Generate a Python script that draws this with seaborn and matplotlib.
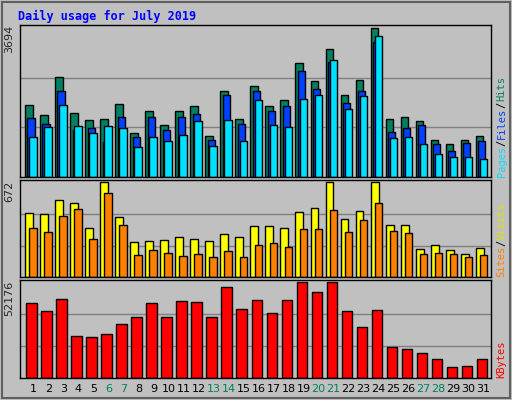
import numpy as np
import pandas as pd
import matplotlib
matplotlib.use("Agg")
import matplotlib.pyplot as plt
import seaborn as sns
from matplotlib.patches import Rectangle

days = list(range(1, 32))
weekends = [6, 7, 13, 14, 20, 21, 27, 28]
hits = [1788,1538,2490,1588,1412,1437,1813,1086,1638,1287,1638,1763,1011,2139,1437,2265,1763,1914,2816,2390,3167,2039,2415,3694,1437,1488,1387,911,811,911,1011]
files = [1462,1312,2139,1162,1212,861,1488,986,1488,1162,1488,1563,911,2039,1312,2139,1638,1763,2616,2190,2841,1839,2139,3343,1111,1212,1287,811,635,836,886]
pages = [986,1237,1788,1262,1086,1262,1212,735,986,886,1036,1387,760,1412,886,1914,1287,1237,1939,2039,2892,1688,2014,3493,961,986,811,560,485,485,435]
visits = [453,446,548,526,351,672,424,248,256,263,285,270,256,307,285,365,365,351,460,489,672,409,467,672,373,373,197,226,190,168,205]
sites = [351,321,431,482,270,599,373,161,190,175,153,168,146,183,146,226,241,212,343,343,475,321,402,526,329,314,168,175,168,146,161]
kbytes = [40707,36692,42998,22932,22359,24079,29812,33251,40707,33251,41851,41278,33251,49877,37838,42425,35545,42425,52176,47011,52176,36692,28092,37265,17199,16052,13759,10319,6306,6880,10319]

sns.set_theme(style="white")
plt.rcParams['font.family'] = ['DejaVu Sans']
BG = "#c0c0c0"
fig = plt.figure(figsize=(5.12, 4.0), dpi=100, facecolor=BG)
fig.patches.append(Rectangle((0.004, 0.004), 0.992, 0.992, transform=fig.transFigure,
                             fill=False, edgecolor="#606060", linewidth=1.5))

L, R = 0.039, 0.959
panels = [(0.5575, 0.9375), (0.3067, 0.549), (0.054, 0.299)]
axes = [fig.add_axes([L, b, R - L, t - b]) for b, t in panels]
d = np.array(days, dtype=float)

def bars(ax, vals, off, w, col):
    sns.barplot(x=d + off, y=vals, native_scale=True, width=w, color=col,
                edgecolor="black", linewidth=1, saturation=1, ax=ax)

bars(axes[0], hits, -0.29, 0.49, "#008060")
bars(axes[0], files, -0.14, 0.5, "#0040ff")
bars(axes[0], pages, -0.02, 0.49, "#00e0ff")
bars(axes[1], visits, -0.27, 0.53, "#ffff00")
bars(axes[1], sites, -0.02, 0.49, "#ff8000")
bars(axes[2], kbytes, -0.12, 0.69, "#ff0000")

maxes = [max(hits), max(visits), max(kbytes)]
for ax, m in zip(axes, maxes):
    ax.set_facecolor(BG)
    ax.set_xlim(0.11, 31.49)
    ax.set_ylim(0, m * 1.02)
    for f in (1/3, 2/3):
        ax.axhline(m * f, color="#808080", linewidth=1, zorder=0)
    ax.set_yticks([])
    ax.set_xticks([])
    ax.set_xlabel(""); ax.set_ylabel("")
    for s in ax.spines.values():
        s.set_color("black"); s.set_linewidth(1)
    ax.text(-0.012, 1.0, str(m), transform=ax.transAxes, rotation=90,
            ha="right", va="top", fontsize=8)

axes[2].set_xticks(days)
axes[2].set_xticklabels([str(x) for x in days], fontsize=8)
axes[2].tick_params(axis="x", length=0, pad=4)
for lbl, dd in zip(axes[2].get_xticklabels(), days):
    lbl.set_color("#008060" if dd in weekends else "black")

CHAR_PX = 6.3
def rlabel(ax, parts):
    hpx = ax.get_position().height * 400
    y = 0.0
    for txt, col in parts:
        ax.text(1.012, y, txt, transform=ax.transAxes, rotation=90,
                ha="left", va="bottom", fontsize=7.5, color=col,
                family="DejaVu Sans Mono")
        y += len(txt) * CHAR_PX / hpx

rlabel(axes[0], [("Pages", "#00e0ff"), ("/", "black"), ("Files", "#0040ff"), ("/", "black"), ("Hits", "#008060")])
rlabel(axes[1], [("Sites", "#ff8000"), ("/", "black"), ("Visits", "#e0e000")])
rlabel(axes[2], [("KBytes", "#ff0000")])

fig.text(0.035, 0.975, "Daily usage for July 2019", color="#0000ff", fontsize=8.5,
         fontweight="bold", family="DejaVu Sans Mono", ha="left", va="top")
fig.savefig("out.png", dpi=100, facecolor=BG)
